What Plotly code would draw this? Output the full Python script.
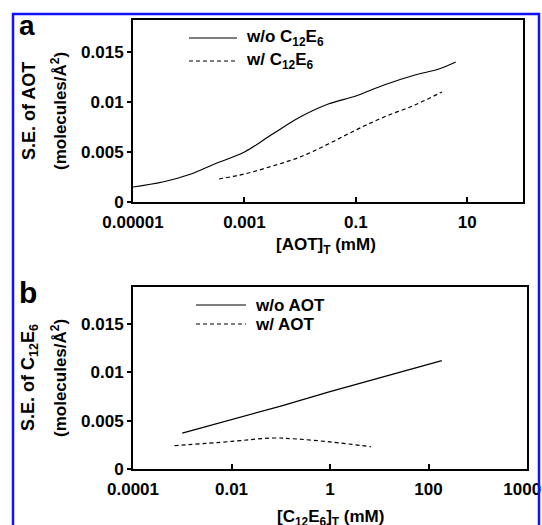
import plotly.graph_objects as go

W, H = 542, 525

# Panel a: surface excess of AOT vs total AOT concentration (mM)
a_noC12E6_x = [1e-5, 3.4e-5, 1.1e-4, 2.9e-4, 1e-3, 3.2e-3, 0.01, 0.032, 0.1, 0.32, 1.15, 3.1, 6.2]
a_noC12E6_y = [0.0015, 0.0020, 0.0028, 0.0038, 0.0050, 0.0068, 0.0085, 0.0098, 0.0106, 0.0117, 0.0127, 0.0133, 0.0140]
a_withC12E6_x = [3.5e-4, 1e-3, 3.2e-3, 0.01, 0.032, 0.1, 0.32, 1.15, 3.5]
a_withC12E6_y = [0.0023, 0.0028, 0.0036, 0.0045, 0.0058, 0.0072, 0.0085, 0.0097, 0.0110]

# Panel b: surface excess of C12E6 vs total C12E6 concentration (mM)
b_noAOT_x = [1e-3, 0.01, 0.1, 1, 10, 100, 186]
b_noAOT_y = [0.0037, 0.0051, 0.0065, 0.0080, 0.0094, 0.0108, 0.0112]
b_withAOT_x = [6.9e-4, 0.01, 0.069, 0.21, 1, 6.8]
b_withAOT_y = [0.0024, 0.00285, 0.0032, 0.0031, 0.0028, 0.0023]

a_names = ["w/o C<sub>12</sub>E<sub>6</sub>", "w/ C<sub>12</sub>E<sub>6</sub>"]
b_names = ["w/o AOT", "w/ AOT"]

a_xticks = [1e-5, 1e-3, 0.1, 10]
a_xticktext = ["0.00001", "0.001", "0.1", "10"]
b_xticks = [1e-4, 1e-2, 1, 100, 1e4]
b_xticktext = ["0.0001", "0.01", "1", "100", "10000"]
yticks = [0, 0.005, 0.01, 0.015]
yticktext = ["0", "0.005", "0.01", "0.015"]

FONT = "Liberation Sans, Arial, sans-serif"
FS = 17

def px(x):
    return x / W

def py(y):
    return 1 - y / H

fig = go.Figure()
line_solid = dict(color="black", width=1.2)
line_dash = dict(color="black", width=1.2, dash="4px,3px")

fig.add_trace(go.Scatter(x=a_noC12E6_x, y=a_noC12E6_y, mode="lines", line=line_solid, line_shape="spline",
                         name=a_names[0], xaxis="x", yaxis="y"))
fig.add_trace(go.Scatter(x=a_withC12E6_x, y=a_withC12E6_y, mode="lines", line=line_dash, line_shape="spline",
                         name=a_names[1], xaxis="x", yaxis="y"))
fig.add_trace(go.Scatter(x=b_noAOT_x, y=b_noAOT_y, mode="lines", line=line_solid,
                         name=b_names[0], xaxis="x2", yaxis="y2"))
fig.add_trace(go.Scatter(x=b_withAOT_x, y=b_withAOT_y, mode="lines", line=line_dash, line_shape="spline",
                         name=b_names[1], xaxis="x2", yaxis="y2"))

tickfont = dict(family=FONT, size=FS, color="black", weight="bold")
common_x = dict(type="log", showline=True, linewidth=2, linecolor="black", mirror=True,
                ticks="inside", ticklen=5, tickwidth=2, tickcolor="black", showgrid=False,
                zeroline=False, tickfont=tickfont, automargin=False,
                ticklabeloverflow="allow", ticklabelstandoff=4)
common_y = dict(showline=True, linewidth=2, linecolor="black", mirror=True,
                ticks="outside", ticklen=4, tickwidth=2, tickcolor="black", showgrid=False,
                zeroline=False, tickfont=tickfont, tickvals=yticks, ticktext=yticktext,
                automargin=False, ticklabeloverflow="allow", ticklabelstandoff=0)

fig.update_layout(
    width=W, height=H,
    margin=dict(l=0, r=0, t=0, b=0, autoexpand=False),
    paper_bgcolor="white", plot_bgcolor="white",
    showlegend=False,
    hovermode=False,
    xaxis=dict(common_x, domain=[px(133), px(523)], range=[-5, 2],
               tickvals=a_xticks, ticktext=a_xticktext, anchor="y"),
    yaxis=dict(common_y, domain=[py(202), py(20)], range=[0, 0.0182], anchor="x"),
    xaxis2=dict(common_x, domain=[px(133), px(527)], range=[-4, 4],
                tickvals=b_xticks, ticktext=b_xticktext, anchor="y2"),
    yaxis2=dict(common_y, domain=[py(469), py(287)], range=[0, 0.0188], anchor="x2"),
)

ann = []
def text(x, y, s, size=FS, angle=0, xanchor="center"):
    ann.append(dict(x=px(x), y=py(y), xref="paper", yref="paper", text=s, showarrow=False,
                    textangle=angle, xanchor=xanchor, yanchor="middle",
                    font=dict(family=FONT, size=size, color="black", weight="bold")))

text(29, 111, "S.E. of AOT", size=18, angle=-90)
text(59, 111, "(molecules/Å<sup>2</sup>)", angle=-90)
text(326, 246, "[AOT]<sub>T</sub> (mM)")
text(29, 378, "S.E. of C<sub>12</sub>E<sub>6</sub>", size=18, angle=-90)
text(59, 378, "(molecules/Å<sup>2</sup>)", angle=-90)
text(330, 518, "[C<sub>12</sub>E<sub>6</sub>]<sub>T</sub> (mM)")
text(17, 25, "a", size=28, xanchor="left")
text(17, 292, "b", size=30, xanchor="left")

# manual legends (sample line + label)
shapes = []
def legend_item(x0, x1, y, label, dash):
    shapes.append(dict(type="line", xref="paper", yref="paper", x0=px(x0), x1=px(x1), y0=py(y), y1=py(y),
                       line=dict(color="black", width=1.2, dash=dash)))
    text(x1 + 7, y, label, xanchor="left")

legend_item(189, 237, 38, a_names[0], "solid")
legend_item(189, 237, 61, a_names[1], "4px,3px")
legend_item(196, 246, 305, b_names[0], "solid")
legend_item(196, 246, 324, b_names[1], "4px,3px")

shapes.append(dict(type="rect", xref="paper", yref="paper", x0=px(13), x1=px(539), y0=-0.02, y1=py(14),
                   line=dict(color="#1010ff", width=2.5), fillcolor="rgba(0,0,0,0)", layer="above"))
fig.update_layout(annotations=ann, shapes=shapes)

fig.write_html("out.html", config={"displayModeBar": False, "staticPlot": True},
               post_script="document.body.style.margin='0px';document.body.style.overflow='hidden';")
